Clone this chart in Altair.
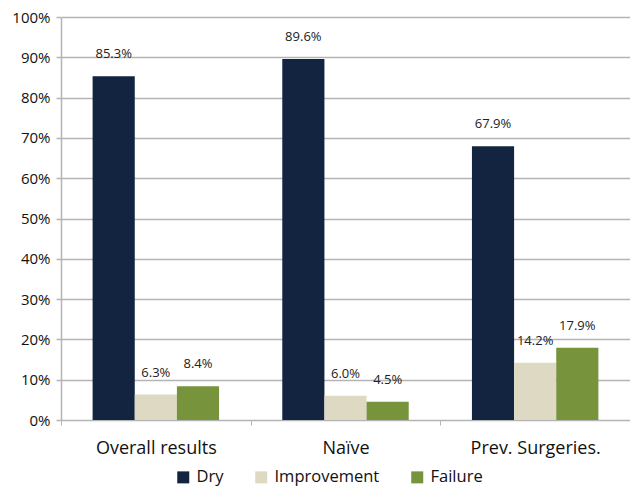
import altair as alt
import pandas as pd

categories = ["Overall results", "Naïve", "Prev. Surgeries."]
series = ["Dry", "Improvement", "Failure"]
dry = [85.3, 89.6, 67.9]
improvement = [6.3, 6.0, 14.2]
failure = [8.4, 4.5, 17.9]
colors = ["#12243f", "#ddd9c3", "#77933c"]
y_ticks = [0, 10, 20, 30, 40, 50, 60, 70, 80, 90, 100]

rows = []
for s, vals in zip(series, [dry, improvement, failure]):
    for c, v in zip(categories, vals):
        rows.append({"cat": c, "series": s, "v": v / 100.0, "label": f"{v:.1f}%"})
df = pd.DataFrame(rows)

FONT = "Open Sans"
GRID = "#b4b4b4"

x_enc = alt.X(
    "cat:N",
    sort=categories,
    scale=alt.Scale(paddingInner=0, paddingOuter=0),
    axis=alt.Axis(
        title=None, labelAngle=0, tickBand="extent", labelFontSize=18,
        labelFont=FONT, labelColor="#111", labelPadding=14, domain=False,
        ticks=True, tickSize=5, tickColor=GRID, tickWidth=1, grid=False,
    ),
)
xo_enc = alt.XOffset(
    "series:N", sort=series, scale=alt.Scale(domain=series, paddingInner=0, paddingOuter=0.75)
)
y_enc = alt.Y(
    "v:Q",
    scale=alt.Scale(domain=[0, 1], nice=False),
    axis=alt.Axis(
        title=None, format=".0%", values=[t / 100 for t in y_ticks],
        labelFontSize=15, labelFont=FONT, labelColor="#111", labelPadding=6,
        tickSize=5, tickColor=GRID, tickWidth=1.5, domainColor=GRID, domainWidth=1.5,
        grid=True, gridColor=GRID, gridWidth=1.5,
    ),
)

bars = alt.Chart(df).mark_bar().encode(
    x=x_enc,
    xOffset=xo_enc,
    y=y_enc,
    color=alt.Color(
        "series:N", sort=series,
        scale=alt.Scale(domain=series, range=colors),
        legend=alt.Legend(
            title=None, orient="none", legendX=114, legendY=452,
            direction="horizontal", symbolType="square", symbolSize=144,
            symbolStrokeWidth=0, labelFontSize=16.5, labelFont=FONT,
            labelColor="#111", columnPadding=29, labelOffset=5,
        ),
    ),
)

labels = alt.Chart(df).mark_text(
    dy=-22, fontSize=13, font=FONT, color="#222", baseline="middle"
).encode(
    x=alt.X("cat:N", sort=categories),
    xOffset=alt.XOffset("series:N", sort=series),
    y=alt.Y("v:Q"),
    text="label:N",
)

chart = (
    alt.layer(bars, labels)
    .properties(
        width=569, height=403,
        autosize=alt.AutoSizeParams(type="none"),
        padding={"left": 53, "top": 9, "right": 0, "bottom": 66},
    )
    .configure_view(stroke=None)
    .configure(background="white")
)

chart.save("out.html", embed_options={"renderer": "svg", "actions": False})
